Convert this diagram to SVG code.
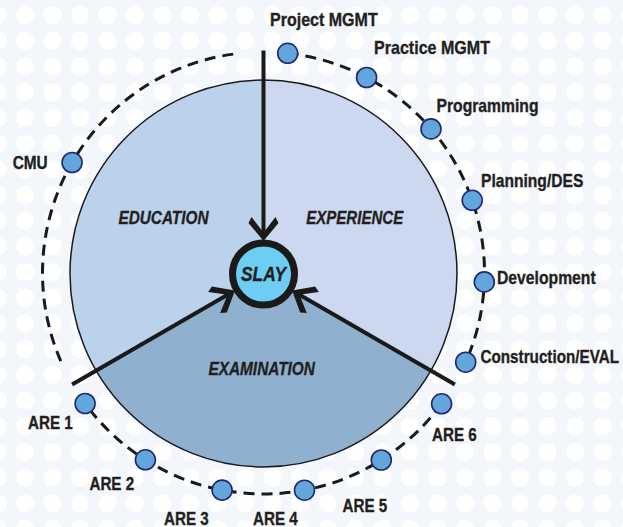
<svg xmlns="http://www.w3.org/2000/svg" width="623" height="527" viewBox="0 0 623 527">
<style>
.lbl{font-family:"Liberation Sans",Arial,sans-serif;font-weight:bold;font-size:19px;fill:#231f20;stroke:#231f20;stroke-width:0.35}
.sec{font-family:"Liberation Sans",Arial,sans-serif;font-weight:bold;font-style:italic;font-size:18.5px;fill:#231f20;stroke:#231f20;stroke-width:0.35;text-anchor:middle}
.bub{fill:#63a6db;stroke:#1f2a6e;stroke-width:1.6}
.dash{fill:none;stroke:#1a1a1a;stroke-width:3;stroke-dasharray:11 7}
.ln{fill:none;stroke:#1a1a1a;stroke-width:4}
</style>
<defs>
<pattern id="dots" patternUnits="userSpaceOnUse" x="11.25" y="2.15" width="27.5" height="25.7">
<circle cx="13.75" cy="12.85" r="9" fill="#ffffff"/>
</pattern>
<marker id="ah" markerUnits="userSpaceOnUse" viewBox="-26 -16 28 32" markerWidth="28" markerHeight="32" refX="-8" refY="0" orient="auto">
<path d="M0,0 L-18,-15 L-24,-12 L-11,-2 L-11,2 L-24,12 L-18,15 Z" fill="#1a1a1a"/>
</marker>
</defs>
<rect width="623" height="527" fill="#f3f7fb"/>
<rect width="623" height="527" fill="url(#dots)"/>

<g id="education">
<path d="M263.5,273.5 L95.9,370.25 A193.5,193.5 0 0 1 263.5,80 Z" fill="#bcd2ec"/>
<text class="sec" x="163.5" y="224" textLength="90" lengthAdjust="spacingAndGlyphs">EDUCATION</text>
</g>
<g id="experience">
<path d="M263.5,273.5 L263.5,80 A193.5,193.5 0 0 1 431.1,370.25 Z" fill="#cbd8ef"/>
<text class="sec" x="354.7" y="223.5" textLength="97" lengthAdjust="spacingAndGlyphs">EXPERIENCE</text>
</g>
<g id="examination">
<path d="M263.5,273.5 L431.1,370.25 A193.5,193.5 0 0 1 95.9,370.25 Z" fill="#8fb0cf"/>
<text class="sec" x="261.7" y="375" textLength="106.5" lengthAdjust="spacingAndGlyphs">EXAMINATION</text>
</g>
<circle cx="263.5" cy="273.5" r="193.5" fill="none" stroke="#1a1a1a" stroke-width="1.5"/>

<g id="connectors">
<path class="dash" d="M287.7,53.3 A221,221 0 0 1 465.7,362.2"/>
<path class="dash" d="M441.6,403.8 A221,221 0 0 1 85.1,403.5"/>
<path class="dash" d="M60.8,361.1 A221,221 0 0 1 238.1,53.5"/>
<path class="ln" d="M263.5,50.5 L263.5,233" marker-end="url(#ah)"/>
<path class="ln" d="M72.1,384.5 L228,294.5" marker-end="url(#ah)"/>
<path class="ln" d="M454.9,384.5 L299,294.5" marker-end="url(#ah)"/>
</g>

<g id="slay">
<circle cx="263.5" cy="274" r="31" fill="#6dcdf3" stroke="#1a1a1a" stroke-width="7"/>
<text class="sec" x="263.5" y="281" style="font-size:21px" textLength="45" lengthAdjust="spacingAndGlyphs">SLAY</text>
</g>

<g id="project-mgmt"><circle class="bub" cx="287.7" cy="53.3" r="10"/><text class="lbl" x="270" y="26" textLength="107.7" lengthAdjust="spacingAndGlyphs">Project MGMT</text></g>
<g id="practice-mgmt"><circle class="bub" cx="366.6" cy="77.5" r="10"/><text class="lbl" x="374" y="54.3" textLength="116" lengthAdjust="spacingAndGlyphs">Practice MGMT</text></g>
<g id="programming"><circle class="bub" cx="431" cy="128.9" r="10"/><text class="lbl" x="436.5" y="112.3" textLength="102" lengthAdjust="spacingAndGlyphs">Programming</text></g>
<g id="planning-des"><circle class="bub" cx="472.2" cy="200.3" r="10"/><text class="lbl" x="481" y="186.7" textLength="102.3" lengthAdjust="spacingAndGlyphs">Planning/DES</text></g>
<g id="development"><circle class="bub" cx="484.3" cy="281.9" r="10"/><text class="lbl" x="497" y="284.3" textLength="98.7" lengthAdjust="spacingAndGlyphs">Development</text></g>
<g id="construction-eval"><circle class="bub" cx="465.7" cy="362.2" r="10"/><text class="lbl" x="480.5" y="362.7" textLength="138.5" lengthAdjust="spacingAndGlyphs">Construction/EVAL</text></g>
<g id="are6"><circle class="bub" cx="441.6" cy="403.8" r="10"/><text class="lbl" x="432" y="441" textLength="44.8" lengthAdjust="spacingAndGlyphs">ARE 6</text></g>
<g id="are5"><circle class="bub" cx="381.3" cy="460" r="10"/><text class="lbl" x="342.5" y="512.3" textLength="44.8" lengthAdjust="spacingAndGlyphs">ARE 5</text></g>
<g id="are4"><circle class="bub" cx="304.5" cy="490.2" r="10"/><text class="lbl" x="253" y="524.5" textLength="44.8" lengthAdjust="spacingAndGlyphs">ARE 4</text></g>
<g id="are3"><circle class="bub" cx="222.1" cy="490.1" r="10"/><text class="lbl" x="164" y="524.5" textLength="44.8" lengthAdjust="spacingAndGlyphs">ARE 3</text></g>
<g id="are2"><circle class="bub" cx="145.4" cy="459.8" r="10"/><text class="lbl" x="89.4" y="490" textLength="44.8" lengthAdjust="spacingAndGlyphs">ARE 2</text></g>
<g id="are1"><circle class="bub" cx="85.1" cy="403.5" r="10"/><text class="lbl" x="28" y="429.3" textLength="44.8" lengthAdjust="spacingAndGlyphs">ARE 1</text></g>
<g id="cmu"><circle class="bub" cx="72.1" cy="162.5" r="10"/><text class="lbl" x="12.7" y="169.3" textLength="35" lengthAdjust="spacingAndGlyphs">CMU</text></g>
</svg>
